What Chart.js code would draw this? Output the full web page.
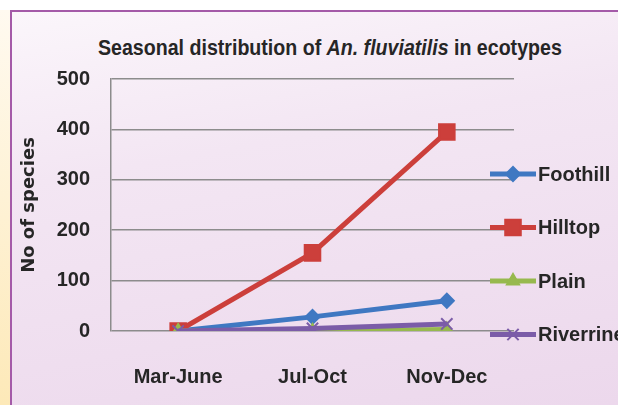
<!DOCTYPE html>
<html>
<head>
<meta charset="utf-8">
<script src="https://cdn.jsdelivr.net/npm/chart.js@4"></script>
<style>
  html, body { margin: 0; padding: 0; width: 618px; height: 405px; overflow: hidden; background: #fff; position: relative; }
  #strip { position: absolute; left: 0; top: 10px; width: 10px; height: 395px;
           background: linear-gradient(#fffaf0, #fde9b8); }
  #box { position: absolute; left: 10px; top: 10px; width: 606px; height: 393px;
         border-left: 2px solid #a45aa8; border-top: 2px solid #a45aa8;
         background: linear-gradient(170deg, #fbf6fb 0%, #f3e6f3 35%, #ecd8ec 100%); }
  #title { position: absolute; left: 98px; top: 35px; white-space: nowrap; transform-origin: 0 0;
           font: bold 22px "Liberation Sans", sans-serif; color: #262626; }
  #wrap { position: absolute; left: 0; top: 0; width: 618px; height: 405px; }
</style>
</head>
<body>
<div id="strip"></div>
<div id="box"></div>
<div id="title">Seasonal distribution of <i>An. fluviatilis</i> in ecotypes</div>
<div id="wrap"><canvas id="chart" width="618" height="405"></canvas></div>
<script>
// data
const seasons = ['Mar-June', 'Jul-Oct', 'Nov-Dec'];
const foothill = [0, 28, 60];
const hilltop = [0, 155, 395];
const plain = [0, 0, 3];
const riverrine = [0, 5, 14];
const yTicks = [0, 100, 200, 300, 400, 500];

const series = [
    { label: 'Foothill', data: foothill, color: '#3f78c2', point: 'rectRot', radius: 7 },
    { label: 'Hilltop', data: hilltop, color: '#cc3f3b', point: 'rect', radius: 11 },
    { label: 'Plain', data: plain, color: '#97b94e', point: 'triangle', radius: 7 },
    { label: 'Riverrine', data: riverrine, color: '#7b5ca8', point: 'crossRot', radius: 8 }
];

// title is a condensed font in the original, squeeze it to the same width
const title = document.getElementById('title');
title.style.transform = 'scaleX(' + (464 / title.scrollWidth) + ')';

const labelFont = { family: '"Liberation Sans", sans-serif', size: 20, weight: 'bold' };

// legend drawn to the right, line + marker + text
const sideLegend = {
    id: 'sideLegend',
    afterDraw(chart) {
        const ctx = chart.ctx;
        ctx.save();
        chart.data.datasets.forEach((ds, i) => {
            const y = 174 + i * 53.5;
            ctx.strokeStyle = ds.borderColor;
            ctx.lineWidth = 5;
            ctx.beginPath();
            ctx.moveTo(490, y);
            ctx.lineTo(536, y);
            ctx.stroke();
            ctx.fillStyle = ds.borderColor;
            ctx.lineWidth = 2;
            Chart.helpers.drawPoint(ctx, {
                pointStyle: ds.pointStyle, radius: ds.pointRadius, borderWidth: 2
            }, 513, y);
            ctx.fillStyle = '#262626';
            ctx.font = 'bold 20px "Liberation Sans", sans-serif';
            ctx.textBaseline = 'middle';
            ctx.textAlign = 'left';
            ctx.fillText(ds.label, 538, y + 1);
        });
        ctx.restore();
    }
};

new Chart(document.getElementById('chart'), {
    type: 'line',
    data: {
        labels: seasons,
        datasets: series.map((s, i) => ({
            label: s.label,
            data: s.data,
            borderColor: s.color,
            backgroundColor: s.color,
            borderWidth: 5,
            pointStyle: s.point,
            pointRadius: s.radius,
            pointBorderWidth: 2,
            tension: 0,
            order: series.length - i
        }))
    },
    options: {
        responsive: false,
        animation: false,
        events: [],
        layout: { padding: { top: 79, right: 104, bottom: 8, left: 0 } },
        plugins: {
            legend: { display: false },
            title: { display: false },
            tooltip: { enabled: false }
        },
        scales: {
            x: {
                offset: true,
                afterFit(scale) { scale.height = 66; },
                grid: { display: false },
                border: { display: false },
                ticks: { color: '#262626', font: labelFont, padding: 26, maxRotation: 0 }
            },
            y: {
                min: 0,
                max: 500,
                afterBuildTicks(scale) { scale.ticks = yTicks.map(v => ({ value: v })); },
                afterFit(scale) { scale.width = 111; },
                grid: { color: '#8c8c8c', lineWidth: 1.5, drawTicks: false },
                border: { display: true, color: '#8c8c8c', width: 1.5 },
                ticks: { color: '#262626', font: labelFont, padding: 21 },
                title: {
                    display: true,
                    text: 'No of species',
                    color: '#262626',
                    font: { family: '"DejaVu Sans", sans-serif', size: 18, weight: 'bold' },
                    padding: { top: 19, bottom: 0 }
                }
            }
        }
    },
    plugins: [sideLegend]
});
</script>
</body>
</html>
